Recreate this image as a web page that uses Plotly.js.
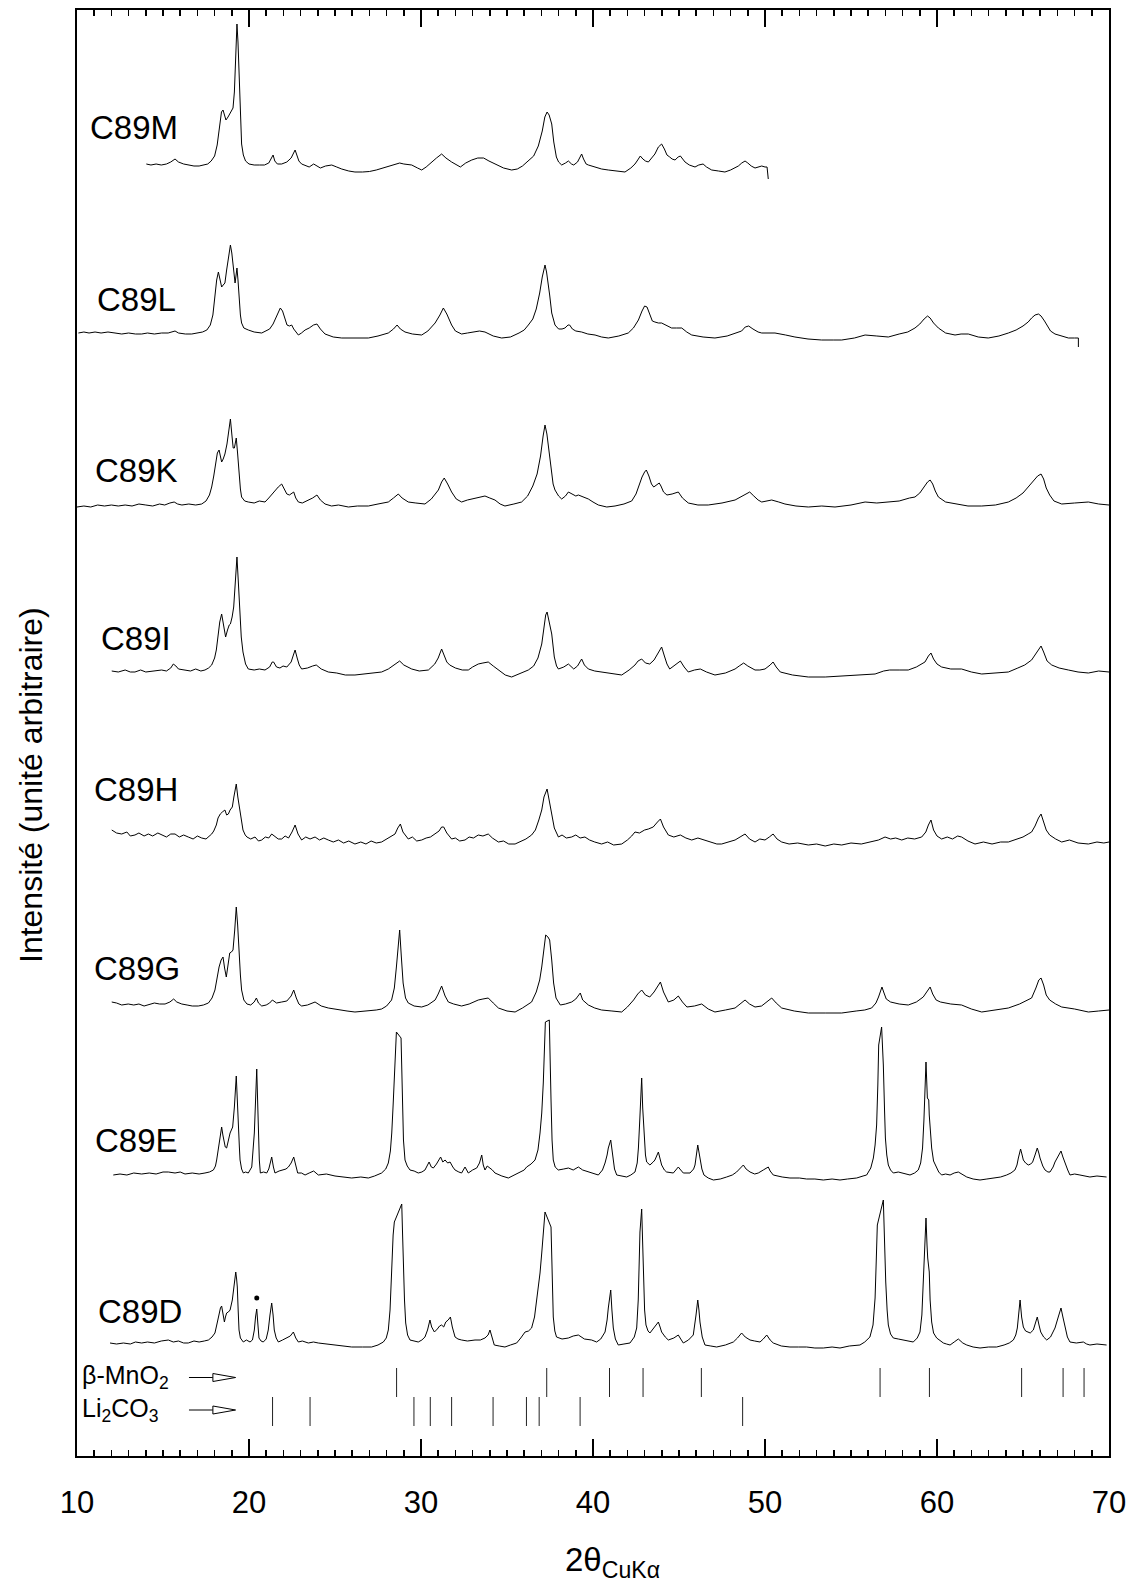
<!DOCTYPE html>
<html><head><meta charset="utf-8">
<script src="https://cdn.plot.ly/plotly-3.0.1.min.js"></script>
<style>body{margin:0;background:#fff}#chart{width:1140px;height:1584px}</style>
</head><body><div id="chart"></div>
<script>
// ---- data: [2θ (deg), intensity (arb. units above the pattern's own baseline)] ----
const sampleNames = ['C89M','C89L','C89K','C89I','C89H','C89G','C89E','C89D'];
const stackOffsets = [1289,1121,950,784,614,446,281,111];

const c89M = [[14.03,3],[14.3,2],[14.6,3],[14.9,2],[15.2,3],[15.45,5],[15.7,8],[15.9,5],[16.2,3],[16.5,2],[16.8,1],[17.1,1],[17.4,2],[17.6,3],[17.8,6],[18.0,11],[18.15,22],[18.3,42],[18.4,55],[18.49,57],[18.58,50],[18.66,47],[18.78,50],[18.9,54],[19.07,59],[19.15,75],[19.23,120],[19.30,143],[19.36,125],[19.42,90],[19.5,45],[19.57,23],[19.67,12],[19.8,6],[20.0,3],[20.3,2],[20.6,2],[20.9,2],[21.15,4],[21.3,8],[21.4,12],[21.5,6],[21.65,3],[21.9,3],[22.2,5],[22.45,9],[22.6,15],[22.68,17],[22.78,12],[22.9,6],[23.06,3],[23.3,1],[23.5,0],[23.76,3],[23.95,1],[24.15,-1],[24.45,1],[24.81,2],[25.1,0],[25.39,-2],[25.8,-4],[26.16,-5],[26.6,-5],[27.0,-4.5],[27.4,-3],[27.8,-1],[28.2,1],[28.5,3],[28.76,4],[29.0,3],[29.46,2],[29.8,-1],[30.04,-3],[30.3,0],[30.62,5],[30.9,9],[31.2,13],[31.45,9],[31.78,5],[32.05,2],[32.29,0],[32.6,4],[32.95,7],[33.3,9],[33.64,9],[33.95,6],[34.3,3],[34.8,-1],[35.27,-3],[35.6,-2],[35.9,1],[36.24,6],[36.55,11],[36.82,21],[37.05,36],[37.2,50],[37.33,55],[37.45,52],[37.6,43],[37.72,25],[37.87,10],[38.0,5],[38.18,2],[38.4,4],[38.57,6],[38.75,3],[38.88,2],[39.1,5],[39.25,11],[39.34,13],[39.45,8],[39.6,3],[39.73,2],[40.12,0],[40.5,-2],[40.89,-3],[41.4,-4],[41.86,-5],[42.2,-1],[42.44,3],[42.6,7],[42.75,11],[42.9,8],[43.05,6],[43.22,5],[43.4,9],[43.6,13],[43.8,20],[43.99,23],[44.15,18],[44.3,12],[44.46,10],[44.6,8],[44.77,7],[44.95,10],[45.08,11],[45.2,8],[45.35,5],[45.6,2],[45.93,0],[46.15,2],[46.40,3],[46.6,0],[46.9,-3],[47.3,-4],[47.67,-5],[48.0,-3],[48.25,-1],[48.45,1],[48.65,4],[48.84,6],[49.0,4],[49.2,1],[49.42,-1],[49.6,0],[49.81,1],[50.0,0],[50.12,0],[50.19,-12]];

const c89L = [[10.08,2],[10.4,3],[10.7,2],[11.05,3],[11.4,2],[11.8,3],[12.21,2],[12.6,1],[13.0,2],[13.4,1],[13.76,1],[14.1,2],[14.5,1],[14.92,2],[15.3,2],[15.55,3],[15.7,4],[15.9,2],[16.3,1],[16.67,1],[17.0,2],[17.3,3],[17.55,5],[17.75,10],[17.9,20],[18.02,38],[18.12,55],[18.22,63],[18.32,55],[18.41,48],[18.5,50],[18.6,52],[18.7,65],[18.8,78],[18.92,90],[19.0,82],[19.07,72],[19.15,58],[19.19,52],[19.25,60],[19.30,67],[19.36,55],[19.42,38],[19.5,20],[19.57,12],[19.7,7],[19.96,5],[20.3,3],[20.74,2],[21.0,4],[21.2,6],[21.4,11],[21.55,17],[21.7,22],[21.82,27],[21.95,24],[22.1,15],[22.21,10],[22.35,9],[22.48,10],[22.6,6],[22.75,2],[22.87,0],[23.05,2],[23.26,5],[23.5,7],[23.75,10],[23.95,11],[24.15,6],[24.42,1],[24.9,-2],[25.39,-3],[26.2,-3],[26.94,-3],[27.5,-1],[28.1,2],[28.4,6],[28.61,10],[28.8,6],[29.07,3],[29.5,1],[30.04,0],[30.4,4],[30.82,12],[31.1,20],[31.3,27],[31.5,21],[31.78,10],[32.0,4],[32.36,1],[32.7,2],[33.14,3],[33.4,4],[33.72,3],[34.2,-1],[34.69,-3],[35.2,-2],[35.7,2],[36.0,5],[36.24,10],[36.5,16],[36.7,26],[36.9,42],[37.05,58],[37.15,68],[37.21,70],[37.3,63],[37.4,52],[37.48,40],[37.6,22],[37.79,10],[38.0,6],[38.2,6],[38.37,7],[38.55,10],[38.64,10],[38.8,6],[39.0,4],[39.34,3],[39.7,1],[40.12,0],[40.5,-2],[40.89,-3],[41.5,-1],[42.05,2],[42.35,7],[42.64,15],[42.85,24],[43.0,29],[43.14,28],[43.3,20],[43.45,14],[43.6,13],[43.8,12],[43.99,12],[44.3,9],[44.57,7],[44.85,7],[45.16,7],[45.45,3],[45.74,0],[46.4,-2],[47.09,-3],[47.8,-1],[48.3,2],[48.64,4],[48.85,8],[49.05,9],[49.3,6],[49.6,3],[49.81,2],[50.2,2],[50.58,2],[51.2,0],[51.74,-2],[52.5,-4],[53.29,-5],[54.0,-5],[54.46,-5],[55.2,-3],[55.82,0],[56.5,-1],[57.17,-2],[57.8,1],[58.3,3],[58.72,7],[59.0,11],[59.25,16],[59.45,19],[59.6,17],[59.8,12],[60.08,7],[60.5,2],[61.05,0],[61.4,1],[61.82,1],[62.4,-2],[62.98,-3],[63.6,-1],[64.15,2],[64.6,5],[65.0,9],[65.3,13],[65.5,17],[65.7,20],[65.9,21],[66.05,19],[66.25,14],[66.4,10],[66.6,4],[66.86,1],[67.2,-1],[67.64,-3],[68.0,-3],[68.22,-3],[68.22,-12]];

const c89K = [[10.0,-1],[10.4,0],[10.8,-1],[11.2,1],[11.6,0],[12.0,1],[12.4,0],[12.8,1],[13.2,0],[13.6,2],[14.0,1],[14.4,0],[14.8,2],[15.1,1],[15.4,3],[15.65,4],[15.85,2],[16.1,1],[16.5,2],[16.9,1],[17.25,2],[17.5,5],[17.7,11],[17.83,19],[17.95,30],[18.05,42],[18.16,53],[18.26,56],[18.34,48],[18.41,44],[18.5,47],[18.6,52],[18.72,62],[18.82,77],[18.92,87],[19.0,72],[19.08,58],[19.15,58],[19.26,68],[19.34,52],[19.42,32],[19.5,17],[19.57,9],[19.75,5],[19.96,4],[20.3,3],[20.6,5],[20.93,4],[21.15,8],[21.32,12],[21.5,15],[21.7,19],[21.9,22],[22.05,17],[22.2,12],[22.35,11],[22.5,13],[22.6,14],[22.72,8],[22.87,4],[23.1,3],[23.45,6],[23.7,8],[23.95,11],[24.15,6],[24.42,2],[24.8,0],[25.2,1],[25.78,-1],[26.3,0],[26.94,0],[27.5,2],[28.1,4],[28.4,8],[28.68,12],[28.9,8],[29.26,4],[29.7,3],[30.23,2],[30.6,7],[31.01,16],[31.2,24],[31.35,28],[31.55,22],[31.78,14],[32.05,7],[32.36,4],[32.7,6],[33.14,8],[33.45,9],[33.72,10],[34.0,8],[34.3,6],[34.6,2],[34.88,0],[35.4,2],[35.85,4],[36.2,10],[36.5,20],[36.75,32],[36.95,50],[37.1,70],[37.21,81],[37.32,72],[37.42,58],[37.55,35],[37.68,22],[37.79,16],[38.0,10],[38.18,7],[38.4,10],[38.57,14],[38.8,12],[39.0,10],[39.15,11],[39.4,9],[39.73,7],[40.0,4],[40.31,1],[40.8,-1],[41.28,0],[41.8,2],[42.25,5],[42.5,12],[42.7,22],[42.85,29],[43.0,34],[43.1,36],[43.25,30],[43.4,22],[43.53,19],[43.7,21],[43.85,23],[43.95,20],[44.1,14],[44.3,11],[44.6,12],[44.96,14],[45.2,8],[45.54,3],[46.1,1],[46.7,1],[47.5,3],[48.26,6],[48.6,9],[48.85,12],[49.11,14],[49.35,10],[49.6,6],[49.81,4],[50.1,5],[50.39,6],[50.8,4],[51.16,2],[51.8,0],[52.52,-1],[53.3,0],[54.07,-1],[55.0,1],[55.82,4],[56.5,3],[57.17,4],[57.8,5],[58.4,8],[58.72,9],[59.0,13],[59.25,19],[59.45,24],[59.6,26],[59.75,22],[59.9,15],[60.08,9],[60.5,4],[61.05,2],[61.8,0],[62.6,0],[63.4,1],[64.15,4],[64.6,8],[65.0,13],[65.31,19],[65.6,25],[65.85,30],[66.05,32],[66.2,27],[66.35,18],[66.55,11],[66.8,5],[67.25,2],[68.0,3],[68.8,4],[69.4,2],[70.0,1]];

const c89I = [[12.02,1],[12.4,0],[12.8,2],[13.1,0],[13.37,0],[13.7,2],[14.0,0],[14.4,1],[14.7,2],[14.92,2],[15.2,1],[15.45,4],[15.6,8],[15.75,6],[15.9,3],[16.28,2],[16.6,1],[16.9,3],[17.2,1],[17.44,2],[17.65,4],[17.83,7],[18.0,14],[18.1,22],[18.2,35],[18.3,50],[18.41,58],[18.5,48],[18.58,38],[18.64,35],[18.75,42],[18.85,47],[18.92,48],[19.02,55],[19.11,65],[19.2,90],[19.30,115],[19.38,90],[19.46,58],[19.55,35],[19.65,20],[19.8,8],[19.96,3],[20.3,2],[20.6,3],[20.93,2],[21.2,5],[21.35,10],[21.43,10],[21.6,5],[21.8,4],[21.98,6],[22.2,5],[22.45,10],[22.6,18],[22.68,22],[22.8,14],[22.92,7],[23.06,3],[23.4,4],[23.7,6],[23.91,7],[24.2,3],[24.61,0],[25.1,-1],[25.6,-3],[26.16,-3],[26.8,-2],[27.3,-1],[27.71,0],[28.1,3],[28.5,8],[28.76,11],[29.0,7],[29.46,3],[29.9,1],[30.43,2],[30.8,8],[31.0,14],[31.2,23],[31.35,16],[31.5,10],[31.67,7],[32.0,4],[32.4,2],[32.75,2],[33.0,5],[33.33,8],[33.6,9],[33.91,10],[34.2,6],[34.5,2],[34.9,-3],[35.27,-5],[35.7,-2],[36.24,2],[36.55,6],[36.8,14],[37.02,28],[37.15,45],[37.25,57],[37.33,60],[37.45,50],[37.6,38],[37.75,15],[37.88,6],[37.99,3],[38.3,5],[38.57,8],[38.75,5],[38.88,3],[39.1,6],[39.25,11],[39.34,13],[39.5,7],[39.73,3],[40.1,1],[40.5,0],[41.1,-2],[41.67,-3],[42.1,2],[42.44,7],[42.62,11],[42.83,13],[43.05,9],[43.3,8],[43.55,12],[43.8,20],[43.99,25],[44.15,16],[44.3,8],[44.46,3],[44.7,6],[44.95,10],[45.08,11],[45.3,5],[45.54,0],[45.9,2],[46.24,3],[46.6,0],[47.09,-3],[47.7,-1],[48.26,3],[48.5,6],[48.76,9],[49.0,6],[49.42,2],[49.7,2],[50.0,3],[50.3,7],[50.47,10],[50.65,5],[50.89,0],[51.6,-3],[52.52,-5],[53.5,-5],[54.46,-4],[55.4,-3],[56.40,-2],[56.9,1],[57.25,2],[57.8,2],[58.33,2],[58.8,5],[59.1,8],[59.3,10],[59.5,16],[59.65,19],[59.8,13],[60.0,8],[60.27,5],[60.8,3],[61.43,3],[62.0,0],[62.6,-2],[63.4,-1],[64.15,0],[64.7,4],[65.1,7],[65.50,12],[65.8,20],[66.05,26],[66.2,20],[66.4,11],[66.67,7],[67.1,4],[67.64,2],[68.2,0],[68.8,-1],[69.4,1],[70.0,0]];

const c89H = [[12.02,12],[12.3,9],[12.6,8],[12.9,10],[13.1,6],[13.37,7],[13.6,9],[13.9,6],[14.15,8],[14.4,6],[14.7,9],[14.92,7],[15.2,5],[15.45,8],[15.70,8],[15.95,5],[16.2,7],[16.47,5],[16.75,3],[17.0,6],[17.25,4],[17.5,3],[17.7,6],[17.83,8],[17.95,11],[18.10,17],[18.2,24],[18.33,28],[18.45,30],[18.6,32],[18.7,27],[18.80,28],[18.9,32],[19.03,35],[19.12,45],[19.2,55],[19.26,58],[19.35,45],[19.46,32],[19.55,20],[19.65,12],[19.78,7],[19.88,5],[20.1,3],[20.35,5],[20.55,1],[20.74,2],[20.95,5],[21.15,4],[21.32,8],[21.5,6],[21.7,3],[21.90,3],[22.1,6],[22.3,4],[22.5,10],[22.68,17],[22.85,8],[23.06,2],[23.3,5],[23.55,3],[23.84,5],[24.1,2],[24.35,4],[24.61,2],[24.9,0],[25.2,2],[25.5,-1],[25.8,1],[26.16,-2],[26.5,0],[26.8,-2],[27.1,1],[27.4,-1],[27.71,0],[28.0,3],[28.25,5],[28.49,8],[28.65,14],[28.80,18],[28.95,10],[29.1,6],[29.26,3],[29.5,5],[29.75,1],[30.04,2],[30.3,4],[30.55,5],[30.82,8],[31.05,11],[31.2,15],[31.32,15],[31.5,9],[31.78,3],[32.0,4],[32.25,1],[32.56,2],[32.8,5],[33.05,4],[33.33,7],[33.6,6],[33.91,8],[34.15,4],[34.5,0],[34.8,1],[35.1,-2],[35.47,-2],[35.8,1],[36.1,3],[36.43,7],[36.65,12],[36.85,22],[37.02,32],[37.15,45],[37.25,50],[37.33,53],[37.45,42],[37.60,28],[37.75,14],[37.99,5],[38.2,7],[38.45,4],[38.76,5],[39.0,7],[39.25,4],[39.53,5],[39.8,2],[40.1,0],[40.50,-2],[40.85,0],[41.2,-3],[41.67,-2],[42.0,2],[42.25,6],[42.44,10],[42.7,9],[43.0,12],[43.22,13],[43.5,15],[43.75,20],[43.92,23],[44.1,15],[44.38,7],[44.7,5],[45.08,7],[45.4,4],[45.74,2],[46.1,4],[46.51,2],[46.9,0],[47.2,-2],[47.48,-2],[47.9,0],[48.26,2],[48.55,5],[48.84,8],[49.1,3],[49.42,0],[49.7,3],[50.00,2],[50.25,5],[50.47,8],[50.7,3],[50.97,0],[51.4,-2],[51.9,-1],[52.52,-3],[53.0,-2],[53.5,-4],[54.0,-2],[54.46,-3],[55.0,-1],[55.6,-2],[56.20,0],[56.6,2],[56.98,5],[57.3,3],[57.6,4],[57.95,2],[58.3,4],[58.7,3],[59.11,5],[59.35,10],[59.5,17],[59.65,22],[59.8,12],[60.0,6],[60.27,3],[60.6,5],[60.9,3],[61.2,6],[61.43,5],[61.8,1],[62.21,-2],[62.7,0],[63.2,-2],[63.7,0],[64.15,0],[64.6,3],[65.0,5],[65.3,8],[65.50,10],[65.7,16],[65.9,24],[66.05,28],[66.2,20],[66.35,12],[66.55,7],[66.9,3],[67.25,0],[67.7,2],[68.2,-1],[68.80,-2],[69.3,0],[69.7,-1],[70.0,0]];

const c89G = [[12.02,8],[12.3,7],[12.6,5],[12.98,6],[13.3,5],[13.6,6],[13.9,4],[14.15,5],[14.5,7],[14.8,6],[15.12,6],[15.4,8],[15.62,11],[15.8,8],[16.09,6],[16.4,5],[16.7,4],[17.05,4],[17.35,5],[17.64,7],[17.85,12],[18.02,20],[18.15,32],[18.26,43],[18.38,50],[18.49,53],[18.58,42],[18.68,33],[18.78,45],[18.88,57],[18.98,58],[19.07,60],[19.17,80],[19.26,103],[19.34,85],[19.42,57],[19.5,35],[19.57,20],[19.7,10],[19.88,6],[20.1,5],[20.3,8],[20.43,12],[20.55,7],[20.74,4],[21.0,5],[21.2,7],[21.36,10],[21.6,7],[21.90,8],[22.2,9],[22.45,14],[22.6,20],[22.75,12],[22.9,6],[23.06,4],[23.4,5],[23.84,8],[24.2,4],[24.61,2],[25.2,0],[25.7,-1],[26.16,-2],[26.9,-1],[27.4,0],[27.71,1],[28.0,4],[28.29,10],[28.45,22],[28.57,43],[28.66,65],[28.76,80],[28.85,55],[28.96,27],[29.1,12],[29.26,7],[29.6,4],[30.04,3],[30.4,5],[30.82,10],[31.0,16],[31.2,24],[31.4,14],[31.59,8],[31.9,6],[32.36,4],[32.8,6],[33.33,10],[33.6,11],[33.91,12],[34.2,7],[34.50,2],[35.0,-1],[35.47,-2],[35.9,2],[36.2,5],[36.43,8],[36.7,18],[36.9,30],[37.02,43],[37.12,60],[37.25,75],[37.38,73],[37.48,70],[37.6,50],[37.71,27],[37.85,12],[38.10,5],[38.4,6],[38.76,8],[39.0,11],[39.15,15],[39.26,17],[39.4,10],[39.73,5],[40.1,2],[40.50,0],[41.1,-1],[41.67,-2],[42.0,3],[42.36,10],[42.6,16],[42.83,20],[43.05,15],[43.30,13],[43.55,18],[43.75,24],[43.92,28],[44.1,18],[44.38,8],[44.7,10],[44.96,14],[45.2,8],[45.46,3],[45.9,4],[46.32,6],[46.7,1],[47.09,-2],[47.7,0],[48.26,2],[48.55,6],[48.84,10],[49.1,6],[49.42,3],[49.8,4],[50.1,8],[50.39,12],[50.65,7],[50.97,2],[51.7,-1],[52.52,-3],[53.5,-3],[54.46,-3],[55.3,-1],[55.8,0],[56.20,2],[56.45,7],[56.6,13],[56.72,20],[56.80,23],[56.92,17],[57.05,11],[57.30,8],[57.8,6],[58.33,5],[58.8,8],[59.2,13],[59.45,20],[59.60,23],[59.75,16],[59.95,10],[60.20,8],[60.8,6],[61.43,5],[62.0,1],[62.60,-2],[63.4,0],[64.15,2],[64.8,6],[65.2,9],[65.50,12],[65.75,22],[65.92,30],[66.05,32],[66.2,25],[66.35,15],[66.55,10],[66.9,6],[67.25,3],[68.0,1],[68.80,-2],[69.4,-1],[70.0,0]];

const c89E = [[12.11,0],[12.5,1],[12.9,0],[13.3,2],[13.76,1],[14.2,2],[14.6,1],[15.0,3],[15.31,3],[15.7,2],[16.0,3],[16.28,1],[16.7,2],[17.1,1],[17.44,2],[17.7,3],[17.93,5],[18.05,9],[18.12,15],[18.2,23],[18.28,32],[18.35,42],[18.41,48],[18.48,40],[18.55,32],[18.62,28],[18.70,27],[18.80,35],[18.90,42],[19.05,48],[19.15,68],[19.26,99],[19.32,80],[19.38,52],[19.44,28],[19.48,15],[19.57,6],[19.67,2],[19.8,3],[19.96,2],[20.16,8],[20.31,42],[20.38,80],[20.45,106],[20.50,75],[20.54,42],[20.60,15],[20.66,2],[20.85,3],[21.03,2],[21.15,6],[21.25,13],[21.32,18],[21.42,8],[21.51,2],[21.75,4],[21.98,5],[22.15,6],[22.29,8],[22.45,12],[22.60,18],[22.70,10],[22.83,2],[23.05,2],[23.26,0],[23.5,2],[23.76,4],[24.03,0],[24.5,1],[25.00,-1],[25.5,-2],[25.97,-3],[26.5,-2],[26.94,-3],[27.3,-1],[27.71,2],[27.95,6],[28.10,12],[28.22,24],[28.30,42],[28.38,70],[28.45,92],[28.52,125],[28.57,143],[28.84,137],[28.91,75],[28.98,35],[29.07,15],[29.2,9],[29.36,5],[29.6,4],[29.84,2],[30.05,3],[30.23,5],[30.38,10],[30.47,13],[30.6,8],[30.72,7],[30.9,11],[31.05,16],[31.14,18],[31.27,13],[31.40,15],[31.55,12],[31.69,13],[31.85,8],[31.98,5],[32.2,3],[32.36,2],[32.56,8],[32.65,5],[32.75,2],[33.0,5],[33.24,7],[33.4,12],[33.53,20],[33.62,10],[33.72,5],[33.85,9],[34.01,7],[34.15,5],[34.30,2],[34.7,-1],[35.08,-3],[35.4,0],[35.76,3],[36.0,5],[36.14,8],[36.4,11],[36.63,15],[36.8,25],[36.92,42],[37.02,62],[37.11,92],[37.17,125],[37.23,153],[37.46,155],[37.52,120],[37.56,75],[37.62,35],[37.69,15],[37.8,8],[37.98,5],[38.3,6],[38.57,7],[38.85,5],[39.15,8],[39.4,5],[39.73,3],[40.0,2],[40.31,0],[40.55,5],[40.70,12],[40.82,20],[40.89,27],[41.03,35],[41.1,25],[41.14,17],[41.25,6],[41.38,0],[41.7,-1],[41.96,-2],[42.2,0],[42.44,3],[42.57,12],[42.64,27],[42.72,55],[42.77,77],[42.83,97],[42.89,67],[42.97,37],[43.05,20],[43.12,13],[43.31,10],[43.5,13],[43.60,15],[43.80,23],[43.90,15],[43.99,10],[44.15,5],[44.28,3],[44.67,2],[44.85,6],[44.96,8],[45.1,5],[45.25,2],[45.64,2],[45.85,6],[45.93,10],[46.02,20],[46.09,30],[46.15,24],[46.22,18],[46.33,6],[46.45,0],[46.7,-3],[47.00,-5],[47.4,-4],[47.77,-2],[48.1,0],[48.35,3],[48.6,8],[48.74,10],[48.9,6],[49.13,3],[49.4,1],[49.61,2],[49.90,5],[50.19,8],[50.3,4],[50.48,0],[51.0,-2],[51.45,-3],[52.0,-3],[52.42,-4],[52.9,-4],[53.39,-5],[53.9,-4],[54.36,-5],[54.8,-4],[55.33,-3],[55.7,-1],[55.91,0],[56.15,7],[56.30,17],[56.40,30],[56.49,50],[56.56,90],[56.61,130],[56.78,148],[56.88,110],[56.95,65],[57.00,37],[57.08,20],[57.17,10],[57.3,5],[57.46,2],[57.75,3],[58.04,2],[58.43,0],[58.7,2],[58.91,5],[59.05,12],[59.16,27],[59.24,55],[59.30,93],[59.36,113],[59.44,77],[59.52,75],[59.55,60],[59.62,40],[59.69,27],[59.8,14],[59.98,7],[60.1,3],[60.27,0],[60.5,1],[60.76,0],[61.0,2],[61.24,3],[61.5,0],[61.73,-2],[62.1,-4],[62.50,-5],[62.9,-4],[63.28,-3],[63.7,-2],[64.05,0],[64.3,2],[64.53,5],[64.65,10],[64.73,17],[64.86,26],[64.95,20],[65.02,15],[65.15,12],[65.31,10],[65.45,11],[65.56,13],[65.7,20],[65.83,27],[65.92,22],[65.99,17],[66.15,9],[66.28,5],[66.45,3],[66.57,3],[66.75,8],[66.86,13],[67.05,19],[67.21,24],[67.32,18],[67.44,12],[67.6,5],[67.73,0],[68.0,1],[68.31,0],[68.6,-1],[68.89,-2],[69.3,-1],[69.86,-2]];

const c89D = [[11.92,2],[12.3,1],[12.7,2],[13.1,1],[13.4,3],[13.76,2],[14.1,3],[14.5,2],[14.9,4],[15.31,5],[15.6,3],[15.9,4],[16.2,2],[16.47,2],[16.8,4],[17.1,3],[17.4,4],[17.64,5],[17.85,8],[18.02,12],[18.15,22],[18.26,32],[18.34,37],[18.41,39],[18.5,30],[18.57,23],[18.63,28],[18.70,32],[18.80,33],[18.90,35],[19.03,45],[19.13,58],[19.23,73],[19.28,66],[19.32,58],[19.37,35],[19.42,15],[19.5,7],[19.67,3],[19.85,5],[20.06,3],[20.2,5],[20.31,15],[20.38,28],[20.45,36],[20.52,20],[20.58,7],[20.7,4],[20.83,3],[21.0,6],[21.12,15],[21.22,30],[21.32,42],[21.40,30],[21.47,15],[21.58,7],[21.71,3],[21.95,5],[22.19,7],[22.4,9],[22.58,13],[22.72,7],[22.87,3],[23.1,4],[23.45,2],[23.75,3],[24.03,2],[24.5,1],[25.00,0],[25.5,-1],[25.97,-2],[26.6,-2],[27.13,-2],[27.5,0],[27.81,3],[27.98,7],[28.10,15],[28.2,35],[28.30,78],[28.38,110],[28.45,123],[28.88,141],[28.93,110],[28.97,78],[29.04,45],[29.11,22],[29.22,10],[29.36,5],[29.6,4],[29.84,3],[30.05,5],[30.23,8],[30.38,15],[30.52,25],[30.62,18],[30.78,13],[30.95,16],[31.08,19],[31.20,20],[31.32,18],[31.44,23],[31.58,25],[31.71,28],[31.82,18],[31.98,8],[32.15,6],[32.36,5],[32.7,4],[33.14,5],[33.45,5],[33.72,7],[33.9,10],[34.01,15],[34.12,8],[34.26,0],[34.55,-1],[34.88,-2],[35.2,0],[35.56,2],[35.8,7],[36.05,13],[36.25,14],[36.43,17],[36.6,28],[36.82,55],[36.92,72],[37.02,92],[37.1,112],[37.21,133],[37.56,118],[37.62,60],[37.69,28],[37.78,14],[37.88,8],[38.2,6],[38.57,7],[38.85,9],[39.15,10],[39.5,6],[39.92,5],[40.21,3],[40.45,6],[40.70,13],[40.82,25],[40.89,37],[40.96,50],[41.03,55],[41.1,35],[41.18,17],[41.3,6],[41.47,0],[41.8,1],[42.15,2],[42.4,8],[42.54,17],[42.63,45],[42.73,113],[42.83,136],[42.93,63],[43.0,35],[43.08,20],[43.2,14],[43.31,12],[43.45,15],[43.60,18],[43.80,23],[43.9,18],[43.99,13],[44.2,8],[44.38,5],[44.7,7],[44.96,10],[45.1,6],[45.25,2],[45.55,5],[45.83,10],[45.99,30],[46.09,45],[46.16,35],[46.22,23],[46.35,8],[46.51,0],[46.85,-1],[47.19,-2],[47.7,0],[48.16,3],[48.4,7],[48.64,12],[48.85,8],[49.13,5],[49.4,4],[49.71,3],[49.9,6],[50.10,10],[50.3,5],[50.48,2],[50.95,-1],[51.45,-2],[51.95,-2],[52.42,-2],[52.9,-3],[53.39,-3],[53.9,-2],[54.36,-3],[54.9,-1],[55.52,0],[55.8,3],[56.10,8],[56.28,20],[56.40,47],[56.47,85],[56.53,120],[56.88,145],[56.95,100],[57.02,63],[57.1,35],[57.17,20],[57.3,11],[57.46,7],[57.75,6],[58.04,5],[58.3,4],[58.62,3],[58.85,7],[59.01,13],[59.12,30],[59.21,63],[59.29,100],[59.36,127],[59.42,100],[59.46,87],[59.55,73],[59.6,45],[59.69,23],[59.8,12],[59.98,7],[60.2,4],[60.37,2],[60.55,1],[60.76,0],[61.0,3],[61.24,6],[61.5,2],[61.73,0],[62.1,-2],[62.50,-3],[63.0,-2],[63.47,-2],[63.9,0],[64.2,2],[64.44,5],[64.58,10],[64.67,17],[64.75,30],[64.83,45],[64.92,28],[65.02,18],[65.15,14],[65.25,13],[65.42,12],[65.60,15],[65.72,22],[65.83,28],[65.93,20],[66.03,13],[66.2,8],[66.38,5],[66.6,8],[66.86,17],[67.05,28],[67.21,37],[67.32,28],[67.44,17],[67.58,8],[67.73,3],[68.1,2],[68.51,3],[68.7,1],[68.89,0],[69.3,1],[69.86,0]];

// impurity marker on C89D
const c89D_dot = [[20.45,47]];

// reference line positions (2θ)
const betaMnO2_peaks = [28.58,37.31,40.96,42.91,46.30,56.69,59.56,64.92,67.33,68.55];
const li2co3_peaks = [21.37,23.55,29.59,30.54,31.78,34.19,36.13,36.87,39.25,48.70];

const xTickVals = [10,20,30,40,50,60,70];

// ---- build ----
const series = [c89M,c89L,c89K,c89I,c89H,c89G,c89E,c89D];
const FONT = '"Liberation Sans", Arial, Helvetica, sans-serif';
const traces = series.map((s,i)=>({
  type:'scatter', mode:'lines', x:s.map(p=>p[0]), y:s.map(p=>p[1]+stackOffsets[i]),
  line:{color:'#000', width:1}, hoverinfo:'skip', name:sampleNames[i]
}));
traces.push({type:'scatter', mode:'markers', x:c89D_dot.map(p=>p[0]), y:c89D_dot.map(p=>p[1]+stackOffsets[7]),
  marker:{color:'#000', size:5}, hoverinfo:'skip'});

function sticks(peaks, y0, y1){
  const xs=[], ys=[];
  peaks.forEach(p=>{xs.push(p,p,null); ys.push(y0,y1,null);});
  return {type:'scatter', mode:'lines', x:xs, y:ys, line:{color:'#222', width:1}, hoverinfo:'skip'};
}
traces.push(sticks(betaMnO2_peaks, 59, 88));
traces.push(sticks(li2co3_peaks, 30, 59));

// label positions (pixels in the 1140x1584 page)
const labelPos = [[88,127],[95,300],[93,471],[99,638],[92,789],[92,968],[93,1140],[96,1311]];
const W=1032, H=1446, L=77, T=10;
const annotations = sampleNames.map((n,i)=>({
  text:n, xref:'paper', yref:'paper', x:(labelPos[i][0]-L)/W, y:(T+H-labelPos[i][1])/H,
  xanchor:'left', yanchor:'middle', showarrow:false, font:{size:33, family:FONT, color:'#000'}
}));
annotations.push({text:'β-MnO<sub>2</sub>', xref:'paper', yref:'paper', x:(80-L)/W, y:(T+H-1377)/H,
  xanchor:'left', yanchor:'middle', showarrow:false, font:{size:25, family:FONT, color:'#000'}});
annotations.push({text:'Li<sub>2</sub>CO<sub>3</sub>', xref:'paper', yref:'paper', x:(80-L)/W, y:(T+H-1410)/H,
  xanchor:'left', yanchor:'middle', showarrow:false, font:{size:25, family:FONT, color:'#000'}});
annotations.push({text:'2θ<sub>CuKα</sub>', xref:'paper', yref:'paper', x:(612-L)/W, y:(T+H-1562)/H,
  xanchor:'center', yanchor:'middle', showarrow:false, font:{size:33, family:FONT, color:'#000'}});
annotations.push({text:'Intensité (unité arbitraire)', xref:'paper', yref:'paper', x:(31-L)/W, y:(T+H-785)/H,
  xanchor:'center', yanchor:'middle', textangle:-90, showarrow:false, font:{size:32, family:FONT, color:'#000'}});

// arrows with open heads
const shapes=[];
[78.5, 46].forEach(yc=>{
  shapes.push({type:'line', xref:'x', yref:'y', x0:16.51, x1:17.9, y0:yc, y1:yc, line:{color:'#000', width:1}});
  shapes.push({type:'path', xref:'x', yref:'y', path:`M 17.9 ${yc-4} L 19.22 ${yc} L 17.9 ${yc+4} Z`, fillcolor:'#fff', line:{color:'#000', width:1}});
});

const layout = {
  width:1140, height:1584,
  margin:{l:77, r:31, t:10, b:128, pad:0},
  paper_bgcolor:'#fff', plot_bgcolor:'#fff', showlegend:false,
  font:{family:FONT, color:'#000'},
  xaxis:{range:[10,70], tickvals:xTickVals, ticks:'inside', ticklen:17, tickwidth:1.5, tickcolor:'#000',
    mirror:'allticks', showline:true, linewidth:2, linecolor:'#000', showgrid:false, zeroline:false,
    tickfont:{size:31, family:FONT, color:'#000'}, ticklabelstandoff:18,
    minor:{dtick:1, tick0:10, ticks:'inside', ticklen:6, tickwidth:1.5, tickcolor:'#000', showgrid:false}},
  yaxis:{range:[0,1446], showticklabels:false, ticks:'', showline:true, mirror:true, linewidth:2,
    linecolor:'#000', showgrid:false, zeroline:false},
  annotations, shapes
};
Plotly.newPlot('chart', traces, layout, {staticPlot:true, displayModeBar:false});
</script></body></html>
